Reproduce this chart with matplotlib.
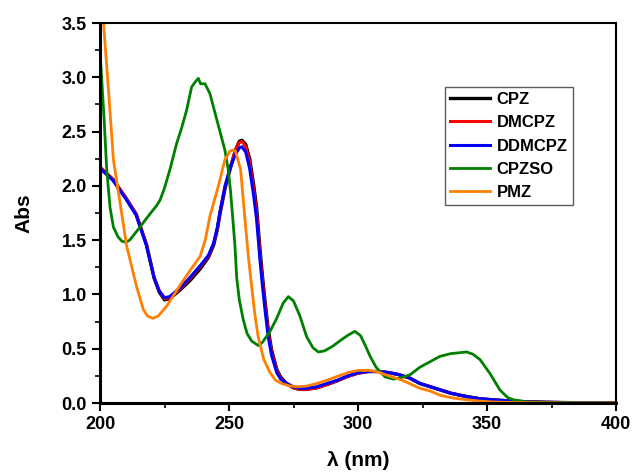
import matplotlib
matplotlib.use("Agg")
import matplotlib.pyplot as plt
from matplotlib.ticker import MultipleLocator

plt.rcParams['font.family'] = ['Liberation Sans', 'DejaVu Sans']
plt.rcParams['font.weight'] = 'bold'

# ---- data ----
wl_cpz = [200, 205, 210, 214, 218, 221, 223, 225, 227, 231, 235, 239, 242, 244,
          245.5, 246.5, 248.5, 250.5, 252.5, 254, 255, 256.5, 258, 259.5, 260.7, 262,
          263, 264, 265.2, 266.5, 268.5, 270, 272.3, 275, 277.5, 280, 284, 288,
          292, 296, 300, 304, 308, 312, 316, 320, 324, 328, 332, 336, 342, 347,
          352, 358, 365, 372, 380, 390, 400]

cpz = [2.17, 2.06, 1.89, 1.74, 1.46, 1.15, 1.02, 0.95, 0.96, 1.04, 1.13, 1.24,
       1.34, 1.45, 1.60, 1.74, 1.98, 2.16, 2.33, 2.41, 2.42, 2.38, 2.25, 2.02, 1.80,
       1.42, 1.16, 0.93, 0.68, 0.49, 0.31, 0.24, 0.18, 0.14, 0.125, 0.125,
       0.14, 0.17, 0.205, 0.245, 0.275, 0.29, 0.29, 0.28, 0.26, 0.23, 0.18,
       0.15, 0.12, 0.09, 0.06, 0.04, 0.03, 0.02, 0.012, 0.007, 0.004, 0.002, 0.0]

dmcpz = [2.17, 2.06, 1.89, 1.74, 1.46, 1.15, 1.03, 0.96, 0.97, 1.05, 1.15,
         1.26, 1.35, 1.46, 1.61, 1.76, 2.0, 2.17, 2.33, 2.40, 2.41, 2.36, 2.22, 1.98,
         1.75, 1.38, 1.12, 0.90, 0.65, 0.47, 0.30, 0.23, 0.18, 0.14, 0.125,
         0.125, 0.14, 0.17, 0.205, 0.245, 0.275, 0.29, 0.29, 0.28, 0.26, 0.23,
         0.18, 0.15, 0.12, 0.09, 0.06, 0.04, 0.03, 0.02, 0.012, 0.007, 0.004,
         0.002, 0.0]

ddmcpz = [2.16, 2.05, 1.88, 1.73, 1.45, 1.15, 1.03, 0.97, 0.98, 1.06, 1.16,
          1.27, 1.36, 1.47, 1.62, 1.76, 2.0, 2.17, 2.29, 2.35, 2.36, 2.31, 2.16, 1.92,
          1.69, 1.32, 1.07, 0.85, 0.61, 0.44, 0.28, 0.22, 0.18, 0.15, 0.135,
          0.135, 0.15, 0.18, 0.21, 0.25, 0.28, 0.29, 0.29, 0.28, 0.26, 0.23,
          0.18, 0.15, 0.12, 0.09, 0.06, 0.04, 0.03, 0.02, 0.012, 0.007, 0.004,
          0.002, 0.0]

wl_cpzso = [200, 201.6, 202.6, 203.9, 205.2, 207, 208.5, 210, 211.5, 213.5,
            215.5, 218, 220, 222, 223.3, 225, 227.1, 229.7, 231.6, 233.6, 235.5,
            237, 238.1, 239, 240.7, 242.6, 244.6, 246.5, 248.4, 249.7, 250.6,
            251.5, 252.3, 253, 254, 255.5, 257, 258.8, 261.3, 263, 265.9, 268.5,
            271, 273, 275, 277.5, 280.1, 282.5, 284.6, 287, 290, 294, 296.5,
            298.8, 301, 303, 304.7, 307, 310.5, 313.7, 316.3, 320.2, 324, 327.9,
            331.8, 336, 342.1, 344.5, 347.3, 351.2, 355, 358, 360.2, 365, 375, 400]
cpzso = [3.25, 2.61, 2.15, 1.80, 1.62, 1.53, 1.49, 1.48, 1.50, 1.56, 1.62,
         1.70, 1.76, 1.82, 1.87, 1.98, 2.15, 2.39, 2.53, 2.70, 2.91, 2.96, 2.99,
         2.94, 2.94, 2.85, 2.67, 2.50, 2.33, 2.15, 1.95, 1.69, 1.45, 1.15, 0.95,
         0.77, 0.64, 0.57, 0.53, 0.56, 0.66, 0.78, 0.92, 0.98, 0.94, 0.80, 0.61,
         0.51, 0.47, 0.48, 0.52, 0.59, 0.63, 0.66, 0.62, 0.52, 0.43, 0.33, 0.24,
         0.22, 0.23, 0.26, 0.33, 0.38, 0.43, 0.455, 0.47, 0.45, 0.40, 0.27, 0.12,
         0.05, 0.03, 0.01, 0.003, 0.0]

wl_pmz = [200, 201.3, 203.2, 205.2, 207.8, 210.3, 214.2, 216.8, 218.5, 220.4,
          222.5, 225.8, 229, 232.3, 235.5, 238.8, 240.8, 242.6, 245.9, 248.4,
          250.4, 251.5, 252.5, 254.5, 256.2, 257.5, 258.8, 260, 261.3, 263.5,
          265.9, 268, 270.4, 273, 276, 280, 284, 288, 292, 296, 300, 304, 307,
          312, 317.6, 324, 328, 332, 337, 342, 347, 352, 360, 370, 380, 400]
pmz = [3.85, 3.52, 2.91, 2.24, 1.84, 1.45, 1.07, 0.86, 0.80, 0.78, 0.80, 0.89,
       1.01, 1.13, 1.24, 1.35, 1.50, 1.72, 2.0, 2.24, 2.32, 2.33, 2.32, 2.15,
       1.69, 1.35, 1.07, 0.82, 0.61, 0.40, 0.28, 0.21, 0.18, 0.16, 0.15, 0.155,
       0.18, 0.21, 0.245, 0.28, 0.30, 0.30, 0.29, 0.25, 0.205, 0.135, 0.11,
       0.07, 0.045, 0.03, 0.018, 0.01, 0.005, 0.002, 0.0, 0.0]

labels = ['CPZ', 'DMCPZ', 'DDMCPZ', 'CPZSO', 'PMZ']
colors = ['#000000', '#ff0000', '#0000ff', '#008000', '#ff8000']

fig = plt.figure(figsize=(6.34, 4.74), dpi=100)
ax = fig.add_axes([100/634, 1-403/474, 516/634, 380/474])

series = [(wl_cpz, cpz), (wl_cpz, dmcpz), (wl_cpz, ddmcpz),
          (wl_cpzso, cpzso), (wl_pmz, pmz)]
widths = [2.4, 2.2, 2.2, 2.0, 2.0]
for (x, y), lab, c, w in zip(series, labels, colors, widths):
    ax.plot(x, y, color=c, lw=w, label=lab, solid_joinstyle='round')

ax.set_xlim(200, 400)
ax.set_ylim(0, 3.5)
ax.xaxis.set_major_locator(MultipleLocator(50))
ax.xaxis.set_minor_locator(MultipleLocator(25))
ax.yaxis.set_major_locator(MultipleLocator(0.5))
ax.yaxis.set_minor_locator(MultipleLocator(0.25))
ax.yaxis.set_major_formatter(matplotlib.ticker.FormatStrFormatter('%.1f'))
ax.tick_params(which='major', direction='out', length=5.5, width=1.5,
               labelsize=13, pad=4)
ax.tick_params(which='minor', direction='out', length=3.5, width=1.2)
ax.tick_params(top=False, right=False)
for lab in ax.get_xticklabels() + ax.get_yticklabels():
    lab.set_fontweight('bold')

ax.spines['left'].set_linewidth(2.2)
ax.spines['bottom'].set_linewidth(2.2)
ax.spines['top'].set_linewidth(1.5)
ax.spines['right'].set_linewidth(1.5)

ax.set_xlabel('λ (nm)', fontsize=15, fontweight='bold', labelpad=13)
ax.set_ylabel('Abs', fontsize=15, fontweight='bold', labelpad=20)

leg = ax.legend(loc='upper left', bbox_to_anchor=(0.6686, 0.8316),
                borderaxespad=0, fancybox=False, frameon=True,
                prop={'weight': 'bold', 'size': 12}, handlelength=2.4,
                handletextpad=0.4, labelspacing=0.5, borderpad=0.3)
leg.get_frame().set_edgecolor('#333333')
leg.get_frame().set_linewidth(1.0)

fig.savefig('out.png', dpi=100)
